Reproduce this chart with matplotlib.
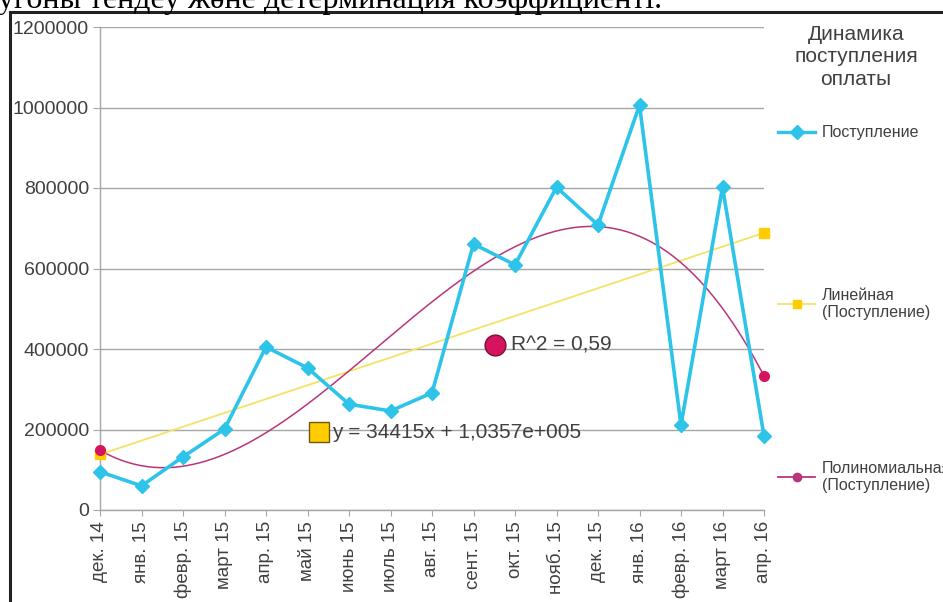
import numpy as np
import matplotlib
matplotlib.use("Agg")
import matplotlib.pyplot as plt
from matplotlib.lines import Line2D

plt.rcParams['font.family'] = ['Liberation Sans', 'DejaVu Sans']

months = ["дек. 14", "янв. 15", "февр. 15", "март 15", "апр. 15", "май 15",
          "июнь 15", "июль 15", "авг. 15", "сент. 15", "окт. 15", "нояб. 15",
          "дек. 15", "янв. 16", "февр. 16", "март 16", "апр. 16"]
payments = [95000, 60000, 132000, 201000, 405000, 353000, 263000, 246000,
            291000, 661000, 609000, 802000, 708000, 1006000, 211000, 802000,
            184000]
yticks = [0, 200000, 400000, 600000, 800000, 1000000, 1200000]

lin_slope = 34415
lin_intercept = 1.0357e5
r2_text = "R^2 = 0,59"
eq_text = "y = 34415x + 1,0357e+005"

CYAN = "#2ec4ea"
YELLOW = "#f2e463"
YELLOW_MK = "#ffcc00"
MAGENTA_LN = "#b8357c"
MAGENTA_MK = "#d6135f"
GRID = "#a6a6a6"
TXT = "#404040"

W, H = 943, 602
fig = plt.figure(figsize=(W / 100, H / 100), dpi=100)

def fx(px):
    return px / W

def fy(py):
    return 1 - py / H

ax = fig.add_axes([fx(100), fy(510), fx(764) - fx(100), fy(27) - fy(510)])

x = np.arange(len(months))
t = x + 1  # trend lines use 1-based period numbers

# polynomial trend (cubic least squares) and linear trend
coef = np.polyfit(t, payments, 3)
tt = np.linspace(t[0], t[-1], 200)
poly_y = np.polyval(coef, tt)
lin_y = lin_slope * t + lin_intercept

ax.plot(tt - 1, poly_y, color=MAGENTA_LN, lw=1.1, zorder=3)
ax.plot([x[0], x[-1]], [poly_y[0], poly_y[-1]], ls="none", marker="o",
        ms=7, color=MAGENTA_MK, zorder=5, clip_on=False)
ax.plot(x, lin_y, color=YELLOW, lw=1.3, zorder=2)
ax.plot([x[0], x[-1]], [lin_y[0], lin_y[-1]], ls="none", marker="s",
        ms=7, color=YELLOW_MK, zorder=4, clip_on=False)

ax.plot(x, payments, color=CYAN, lw=2.6, marker="D", ms=7.5,
        mfc=CYAN, mec=CYAN, zorder=6, clip_on=False)

ax.set_xlim(x[0], x[-1])
ax.set_ylim(0, 1200000)
ax.set_yticks(yticks)
ax.set_yticklabels([str(v) for v in yticks], fontsize=14, color=TXT)
ax.set_xticks(x)
ax.set_xticklabels(months, rotation=90, fontsize=13.5, color=TXT)
ax.tick_params(axis="y", length=5, color=GRID, pad=3)
ax.tick_params(axis="x", length=4, color=GRID, pad=4)
ax.grid(axis="y", color=GRID, lw=1.0, zorder=0)
for s in ["top", "right"]:
    ax.spines[s].set_visible(False)
for s in ["left", "bottom"]:
    ax.spines[s].set_color(GRID)
    ax.spines[s].set_linewidth(1.0)

# trend annotations
ax.plot([5.28], [193000], marker="s", ms=15, mfc=YELLOW_MK, mec="#6b5a10",
        mew=1.0, zorder=7)
ax.text(5.6, 193000, eq_text, fontsize=15, color=TXT, va="center", zorder=7)
ax.plot([9.52], [411000], marker="o", ms=15, mfc=MAGENTA_MK, mec="#7a1038",
        mew=1.0, zorder=7)
ax.text(9.9, 411000, r2_text, fontsize=15, color=TXT, va="center", zorder=7)

# legend
fig.text(fx(856), fy(57), "Динамика\nпоступления\nоплаты", fontsize=15,
         color=TXT, ha="center", va="center", linespacing=1.22)

def legend_entry(py, color, marker, ms, label, lw):
    fig.add_artist(Line2D([fx(778), fx(815)], [fy(py), fy(py)], color=color,
                          lw=lw, transform=fig.transFigure))
    fig.add_artist(Line2D([fx(797)], [fy(py)], marker=marker, ms=ms,
                          color=color if marker != "s" else YELLOW_MK,
                          transform=fig.transFigure))
    fig.text(fx(822), fy(py), label, fontsize=11.5, color=TXT,
             ha="left", va="center", linespacing=1.1)

legend_entry(132, CYAN, "D", 7, "Поступление", 2.4)
legend_entry(304, YELLOW, "s", 6, "Линейная\n(Поступление)", 1.3)
legend_entry(477, MAGENTA_LN, "o", 6, "Полиномиальная\n(Поступление)", 1.3)

# chart frame (top and left edges)
fig.add_artist(Line2D([fx(10), fx(943)], [fy(12), fy(12)], color="#222222",
                      lw=2.2, transform=fig.transFigure))
fig.add_artist(Line2D([fx(10), fx(10)], [fy(12), fy(602)], color="#222222",
                      lw=2.2, transform=fig.transFigure))

# end of the document line above the chart
fig.text(fx(-2), fy(8), "угоны тендеу және детерминация коэффициенті.",
         fontsize=23, family="Liberation Serif", color="black",
         ha="left", va="baseline")

fig.savefig("out.png", dpi=100, facecolor="white")
